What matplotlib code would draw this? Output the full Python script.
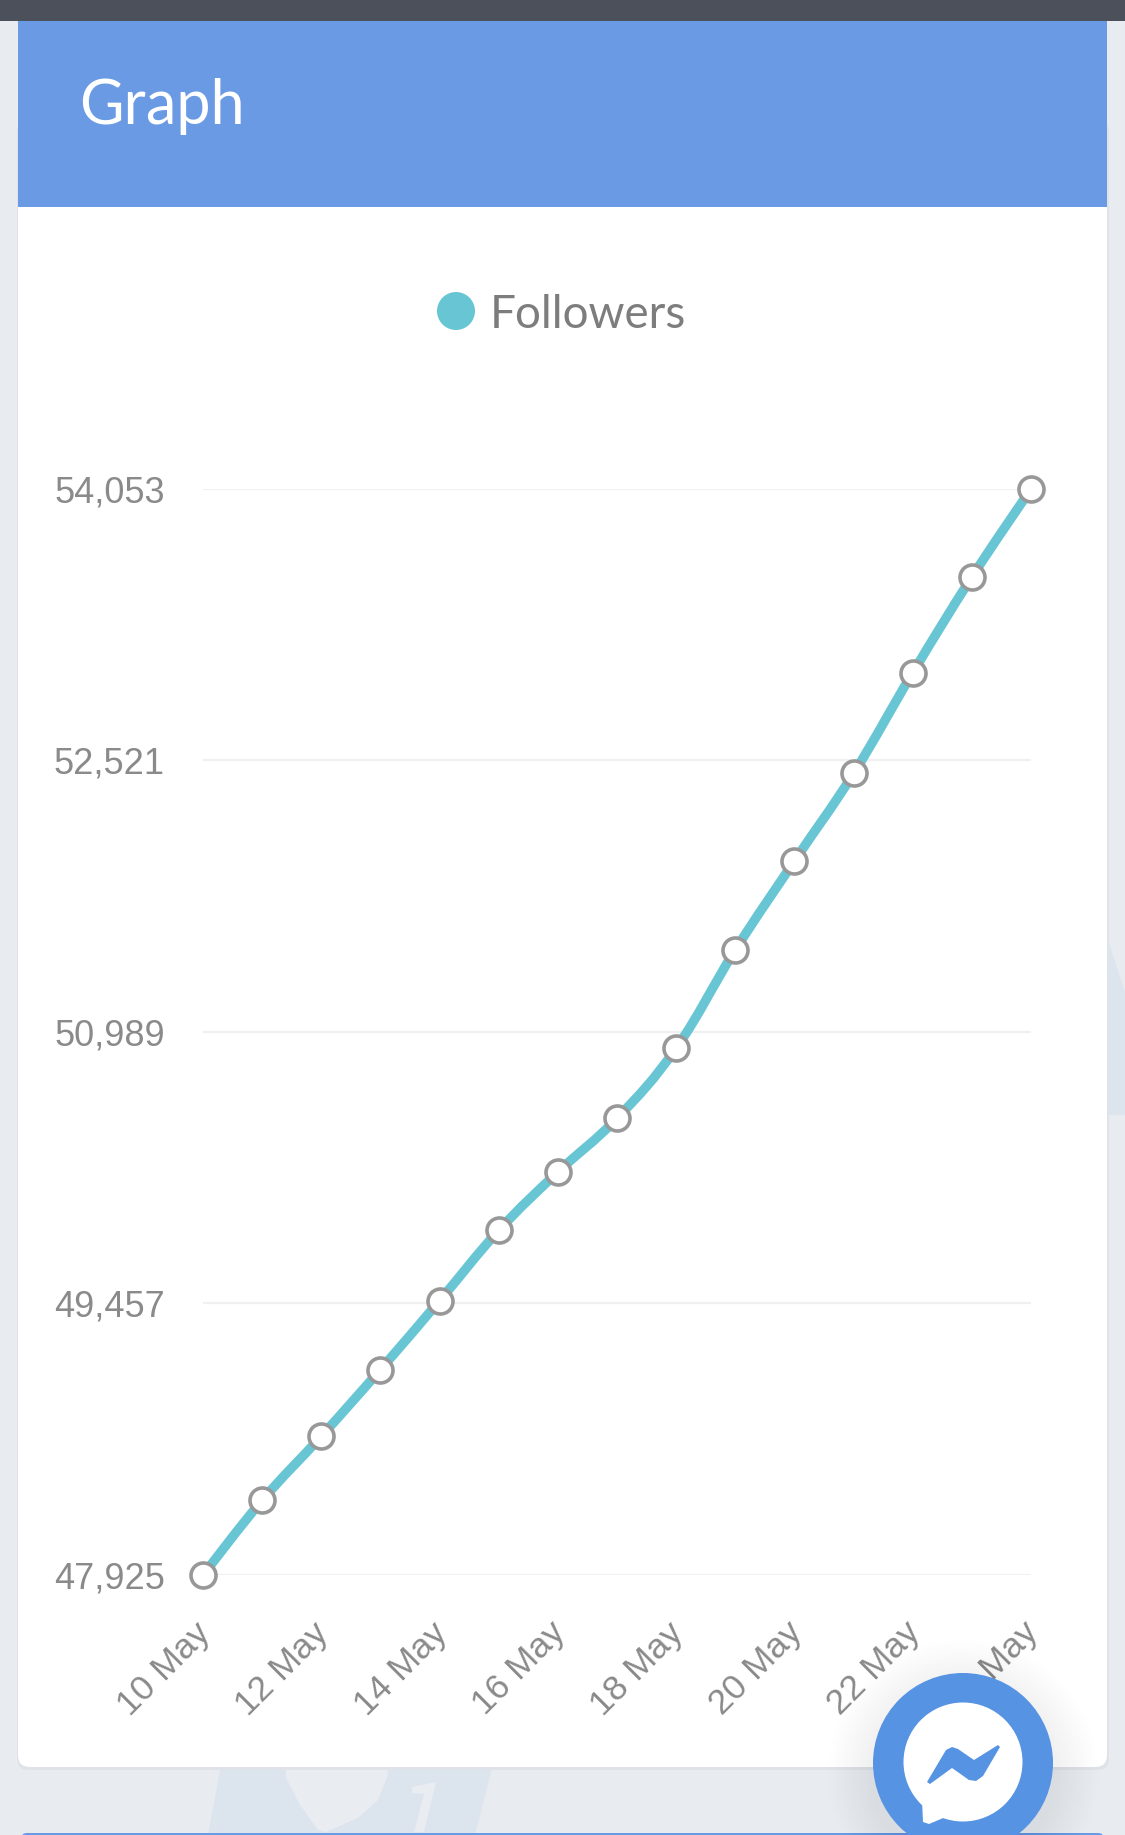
#!/usr/bin/env python3
"""Followers line chart inside a mobile dashboard card."""

import numpy as np
import matplotlib
matplotlib.use('Agg')
import matplotlib.pyplot as plt
from matplotlib.patches import Circle, FancyBboxPatch, PathPatch, Polygon, Rectangle
from matplotlib.path import Path
from matplotlib.transforms import ScaledTranslation

WIDTH, HEIGHT = 1125, 1835

days = list(range(15))
followers = [47925, 48346, 48708, 49084, 49473, 49869, 50199, 50502,
             50898, 51452, 51954, 52448, 53016, 53556, 54053]
y_ticks = [47925, 49457, 50989, 52521, 54053]
x_tick_days = [0, 2, 4, 6, 8, 10, 12, 14]
x_tick_labels = ['10 May', '12 May', '14 May', '16 May', '18 May', '20 May', '22 May', '24 May']
series_name = 'Followers'
card_title = 'Graph'

TEAL = '#68c6d4'
HEADER = '#6a9ae4'
BUTTON = '#5693e3'
PAGE = '#e8ebf0'
WATERMARK = '#dce4ee'
WATERMARK_LIGHT = '#e9ecf1'


def smooth_path(x, y, tension=0.4):
    """Bezier path through the points, same idea as a chart.js tension curve."""
    x = np.asarray(x, float)
    y = np.asarray(y, float)
    verts = [(x[0], y[0])]
    codes = [Path.MOVETO]
    for i in range(len(x) - 1):
        x0, y0 = (x[i - 1], y[i - 1]) if i > 0 else (x[i], y[i])
        x3, y3 = (x[i + 2], y[i + 2]) if i + 2 < len(x) else (x[i + 1], y[i + 1])
        c1 = (x[i] + (x[i + 1] - x0) * tension / 2, y[i] + (y[i + 1] - y0) * tension / 2)
        c2 = (x[i + 1] - (x3 - x[i]) * tension / 2, y[i + 1] - (y3 - y[i]) * tension / 2)
        verts += [c1, c2, (x[i + 1], y[i + 1])]
        codes += [Path.CURVE4] * 3
    return Path(verts, codes)


def pixel_axes(fig, zorder):
    """Full-figure axes addressed in image pixels, origin top left."""
    ax = fig.add_axes([0, 0, 1, 1], zorder=zorder)
    ax.set_xlim(0, WIDTH)
    ax.set_ylim(HEIGHT, 0)
    ax.axis('off')
    ax.patch.set_alpha(0)
    return ax


def draw_page(ax):
    ax.add_patch(Rectangle((0, 0), WIDTH, HEIGHT, color=PAGE, lw=0))

    # faint watermark showing through behind the card
    ax.add_patch(Polygon([(222, 1760), (494, 1760), (475, 1835), (208, 1835)], color=WATERMARK, lw=0))
    ax.add_patch(Polygon([(285, 1760), (387, 1760), (388, 1775), (378, 1800), (358, 1818), (326, 1832),
                          (318, 1830), (300, 1805), (286, 1778)], color=WATERMARK_LIGHT, lw=0))
    ax.add_patch(Polygon([(412, 1787), (436, 1782), (424, 1832), (414, 1832), (424, 1794), (412, 1793)],
                         color=WATERMARK_LIGHT, lw=0))
    ax.add_patch(Polygon([(1107, 937), (1125, 993), (1125, 1115), (1107, 1115)], color=WATERMARK, lw=0))

    # card, with a thin shadow edge
    ax.add_patch(FancyBboxPatch((17, 120), 1092, 1650, boxstyle='round,pad=0,rounding_size=12',
                                color='#dfe2e8', lw=0))
    ax.add_patch(FancyBboxPatch((18, 120), 1089, 1647, boxstyle='round,pad=0,rounding_size=12',
                                color='white', lw=0))
    ax.add_patch(Rectangle((18, 21), 1089, 186, color=HEADER, lw=0))
    ax.add_patch(Rectangle((0, 0), WIDTH, 21, color='#4b505a', lw=0))
    ax.add_patch(FancyBboxPatch((21, 1833), 1083, 20, boxstyle='round,pad=0,rounding_size=6',
                                color=HEADER, lw=0))

    ax.text(79, 124, card_title, color='white', fontsize=44, family='Lato', va='baseline')
    ax.add_patch(Circle((456, 311), 19, color=TEAL, lw=0))
    ax.text(490, 328, series_name, color='#7d7d7d', fontsize=33, family='Lato', va='baseline')


def draw_chart(ax):
    ax.set_xlim(days[0], days[-1])
    ax.set_ylim(y_ticks[0], y_ticks[-1])
    for side in ax.spines.values():
        side.set_visible(False)
    ax.patch.set_alpha(0)

    ax.set_yticks(y_ticks)
    ax.set_yticklabels([f'{v:,}' for v in y_ticks], fontsize=26, color='#8a8a8a', family='Liberation Sans')
    ax.set_xticks(x_tick_days)
    ax.set_xticklabels(x_tick_labels, fontsize=25.5, color='#8a8a8a', family='Liberation Sans',
                       rotation=45, ha='right', va='center', rotation_mode='anchor')
    ax.tick_params(axis='both', length=0)
    ax.tick_params(axis='y', pad=27.5)
    ax.tick_params(axis='x', pad=38)
    ax.grid(axis='y', color='#f0f0f2', lw=1.6)
    ax.set_axisbelow(True)

    # nudge the slanted labels a little to the right
    nudge = ScaledTranslation(2.5 / 100, 0, ax.figure.dpi_scale_trans)
    for label in ax.get_xticklabels():
        label.set_transform(label.get_transform() + nudge)

    ax.add_patch(PathPatch(smooth_path(days, followers), fill=False, edgecolor=TEAL, lw=6.8,
                           clip_on=False, capstyle='round', zorder=3))
    ax.plot(days, followers, 'o', ms=18, mfc='white', mec='#989898', mew=2.6, clip_on=False, zorder=4)


def draw_button(ax):
    # soft shadow under the messenger button
    for r in range(135, 90, -3):
        ax.add_patch(Circle((963, 1775), r, color='black', alpha=0.005, lw=0))
    ax.add_patch(Circle((963, 1763), 90, color=BUTTON, lw=0))
    ax.add_patch(Circle((963, 1762), 59.5, color='white', lw=0))
    ax.add_patch(Polygon([(922, 1800), (923, 1822), (929, 1824), (948, 1816), (950, 1800)],
                         color='white', lw=0, joinstyle='round'))
    ax.add_patch(Polygon([(927, 1782), (946, 1750), (952, 1747), (958, 1749), (974, 1760),
                          (998, 1745), (1000, 1747), (983, 1776), (976, 1781), (969, 1780),
                          (952, 1768), (930, 1784)],
                         color=BUTTON, lw=0, joinstyle='round'))


def main():
    fig = plt.figure(figsize=(WIDTH / 100, HEIGHT / 100), dpi=100)

    draw_page(pixel_axes(fig, zorder=0))

    left, right, top, bottom = 203, 1031, 489, 1575
    ax = fig.add_axes([left / WIDTH, 1 - bottom / HEIGHT, (right - left) / WIDTH, (bottom - top) / HEIGHT],
                      zorder=1)
    draw_chart(ax)

    draw_button(pixel_axes(fig, zorder=2))

    fig.savefig('out.png', dpi=100)
    plt.close(fig)


if __name__ == '__main__':
    main()
